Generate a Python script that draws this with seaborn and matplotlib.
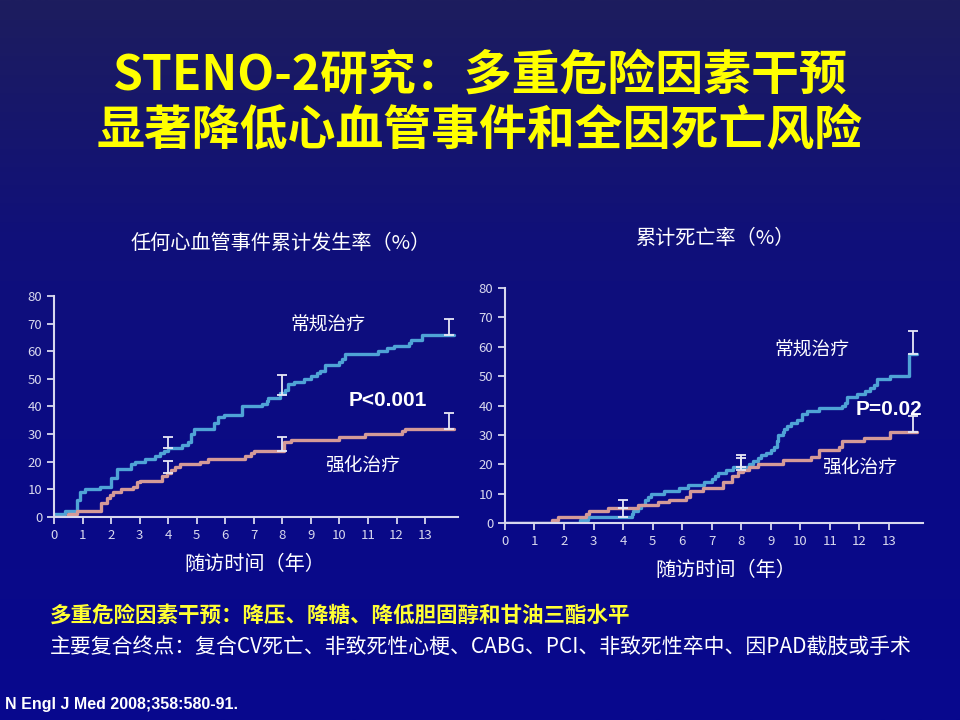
import matplotlib
matplotlib.use("Agg")
import matplotlib.pyplot as plt
import numpy as np
import pandas as pd
import seaborn as sns

# 任何心血管事件累计发生率 (left panel), step curves: time (yr), cumulative %
cv_conv_t = [0, 0.4, 0.8, 0.9, 1.08, 1.6, 2.0, 2.2, 2.7, 2.85, 3.2, 3.55, 3.7, 3.85, 4.0,
             4.5, 4.7, 4.8, 4.9, 5.6, 5.75, 5.95, 6.6, 7.3, 7.45, 7.5, 7.9, 8.1, 8.2, 8.4,
             8.75, 9.0, 9.2, 9.3, 9.5, 10.0, 10.1, 10.2, 11.35, 11.65, 11.9, 12.45, 12.5,
             12.9, 14.0]
cv_conv_y = [1, 2, 6, 9, 10, 11, 14, 17.5, 19, 20, 21, 22, 23, 24, 25,
             26, 27, 30, 32, 34, 36, 37, 40, 41, 42, 43, 45, 46, 48, 49,
             50, 51, 52, 53, 55, 56, 57, 59, 60, 61, 62, 63, 64,
             66, 66]
cv_int_t = [0, 0.5, 0.8, 1.65, 1.85, 1.95, 2.05, 2.35, 2.75, 2.9, 3.0, 3.8, 3.95, 4.1,
            4.25, 4.4, 5.1, 5.4, 6.7, 6.9, 7.0, 8.05, 8.3, 10.0, 10.9, 12.2, 12.3, 14.0]
cv_int_y = [0, 1, 2, 5, 7, 8, 9, 10, 11, 12.5, 13, 15, 16, 17,
            18, 19, 20, 21, 22, 23, 24, 27, 28, 29, 30, 31, 32, 32]

# 累计死亡率 (right panel)
dth_conv_t = [0, 2.53, 2.8, 4.3, 4.35, 4.5, 4.6, 4.73, 4.85, 4.95, 5.4, 5.9, 6.2, 6.75,
              7.0, 7.1, 7.2, 7.48, 7.72, 8.27, 8.4, 8.55, 8.67, 8.85, 9.0, 9.1, 9.2,
              9.23, 9.4, 9.45, 9.55, 9.68, 9.9, 10.07, 10.24, 10.64, 11.42, 11.5, 11.59,
              11.93, 12.2, 12.35, 12.5, 12.6, 13.05, 13.67, 13.96]
dth_conv_y = [0, 1, 2, 3, 4, 5, 6, 8, 9, 10, 11, 12, 13, 14,
              15, 16, 17, 18, 19, 20, 21, 22, 23, 24, 25, 26, 28,
              30, 31, 32, 33, 34, 35, 37, 38, 39, 40, 41, 43,
              44, 45, 46, 47, 49, 50, 57.5, 57.5]
dth_int_t = [0, 1.6, 1.8, 2.75, 2.85, 3.5, 4.5, 5.18, 5.57, 6.13, 6.25, 6.7, 7.37, 7.7,
             7.88, 8.05, 8.27, 8.55, 9.4, 10.35, 10.64, 11.3, 11.42, 12.15, 13.05, 13.96]
dth_int_y = [0, 1, 2, 3, 4, 5, 6, 7, 8, 9, 11, 12, 14, 16,
             17.5, 18, 19, 20, 21.5, 22.5, 25, 26, 28, 29, 31, 31]

# error bars (x, lower, upper)
cv_err_x = [4, 8, 13.85, 4, 8, 13.85]
cv_err_lo = [25, 44, 66, 16, 24, 32]
cv_err_hi = [29, 51.5, 71.7, 20.3, 29, 37.7]
dth_err_x = [4, 4, 8, 8, 13.8, 13.8]
dth_err_lo = [2, 5, 19, 18, 57.5, 31]
dth_err_hi = [5, 7.7, 23.3, 22, 65.5, 36.3]

x_ticks = list(range(0, 14))
y_ticks = list(range(0, 90, 10))

BLUE = "#4fa3d6"
ROSE = "#d49a98"
AXC = "#d8d8ee"

sns.set_style("white")
plt.rcParams["font.family"] = ["Noto Sans CJK SC", "DejaVu Sans"]

fig = plt.figure(figsize=(9.6, 7.2), dpi=100)

# slide background gradient
bg = fig.add_axes([0, 0, 1, 1], zorder=-10)
grad = np.linspace(0, 1, 256).reshape(-1, 1)
cmap = matplotlib.colors.LinearSegmentedColormap.from_list(
    "bg", ["#1d1d5e", "#10107a", "#0a0a86", "#08088e"])
bg.imshow(grad, aspect="auto", cmap=cmap, extent=[0, 1, 0, 1], origin="upper")
bg.axis("off")


def panel(rect, conv_t, conv_y, int_t, int_y, ex, elo, ehi):
    ax = fig.add_axes(rect)
    ax.patch.set_alpha(0)
    df = pd.DataFrame({
        "t": conv_t + int_t,
        "v": conv_y + int_y,
        "g": ["常规治疗"] * len(conv_t) + ["强化治疗"] * len(int_t),
    })
    sns.lineplot(data=df, x="t", y="v", hue="g", palette=[BLUE, ROSE],
                 estimator=None, sort=False, drawstyle="steps-post",
                 linewidth=2.4, legend=False, ax=ax)
    ex = np.array(ex)
    lo = np.array(elo)
    hi = np.array(ehi)
    ax.errorbar(ex, lo, yerr=[np.zeros_like(lo), hi - lo], fmt="none",
                ecolor="#e8e8f6", elinewidth=1.3, capsize=3.5, capthick=1.3, zorder=5)
    ax.set_xlim(0, 14.15)
    ax.set_ylim(0, 80)
    ax.set_xticks(x_ticks)
    ax.set_yticks(y_ticks)
    ax.set_xlabel("")
    ax.set_ylabel("")
    for s in ["top", "right"]:
        ax.spines[s].set_visible(False)
    for s in ["left", "bottom"]:
        ax.spines[s].set_color(AXC)
        ax.spines[s].set_linewidth(1.5)
    ax.tick_params(axis="both", colors=AXC, labelsize=9.5, length=5, width=1.3,
                   direction="out", left=True, bottom=True)
    ax.spines["left"].set_bounds(0, 80)
    return ax


ax1 = panel([0.05625, 0.282, 0.4208, 0.307], cv_conv_t, cv_conv_y, cv_int_t, cv_int_y,
            cv_err_x, cv_err_lo, cv_err_hi)
ax2 = panel([0.526, 0.2736, 0.4354, 0.3264], dth_conv_t, dth_conv_y, dth_int_t, dth_int_y,
            dth_err_x, dth_err_lo, dth_err_hi)

# in-plot labels
ax1.text(9.6, 69.5, "常规治疗", color="white", fontsize=13.5, ha="center", va="center")
ax1.text(10.8, 18.5, "强化治疗", color="white", fontsize=13.5, ha="center", va="center")
ax1.text(11.7, 42, "P<0.001", color="white", fontsize=15, fontweight="bold",
         family=["Liberation Sans", "DejaVu Sans"], ha="center", va="center")
ax2.text(10.4, 59, "常规治疗", color="white", fontsize=13.5, ha="center", va="center")
ax2.text(12.0, 18.5, "强化治疗", color="white", fontsize=13.5, ha="center", va="center")
ax2.text(13.0, 38.5, "P=0.02", color="white", fontsize=15, fontweight="bold",
         family=["Liberation Sans", "DejaVu Sans"], ha="center", va="center")

# panel titles and axis labels
fig.text(281 / 960, 1 - 243 / 720, "任何心血管事件累计发生率（%）", color="white",
         fontsize=14.5, ha="center", va="center")
fig.text(716 / 960, 1 - 239 / 720, "累计死亡率（%）", color="white",
         fontsize=14.5, ha="center", va="center")
fig.text(255 / 960, 1 - 565 / 720, "随访时间（年）", color="white",
         fontsize=14.5, ha="center", va="center")
fig.text(726 / 960, 1 - 570 / 720, "随访时间（年）", color="white",
         fontsize=14.5, ha="center", va="center")

# slide title
fig.text(0.5, 1 - 75 / 720, "STENO-2研究：多重危险因素干预", color="#ffff00",
         fontsize=34.5, fontweight="bold", ha="center", va="center",
         family=["Noto Sans CJK SC", "DejaVu Sans"])
fig.text(0.5, 1 - 131 / 720, "显著降低心血管事件和全因死亡风险", color="#ffff00",
         fontsize=34.5, fontweight="bold", ha="center", va="center",
         family=["Noto Sans CJK SC", "DejaVu Sans"])

# footnotes
fig.text(50 / 960, 1 - 615 / 720, "多重危险因素干预：降压、降糖、降低胆固醇和甘油三酯水平",
         color="#ffff33", fontsize=15.5, fontweight="bold", ha="left", va="center")
fig.text(50 / 960, 1 - 648 / 720,
         "主要复合终点：复合CV死亡、非致死性心梗、CABG、PCI、非致死性卒中、因PAD截肢或手术",
         color="white", fontsize=15, ha="left", va="center")
fig.text(5 / 960, 1 - 704 / 720, "N Engl J Med 2008;358:580-91.", color="white",
         fontsize=11.5, fontweight="bold", ha="left", va="center",
         family=["Liberation Sans Narrow", "Liberation Sans", "DejaVu Sans"])

fig.savefig("out.png", dpi=100)
